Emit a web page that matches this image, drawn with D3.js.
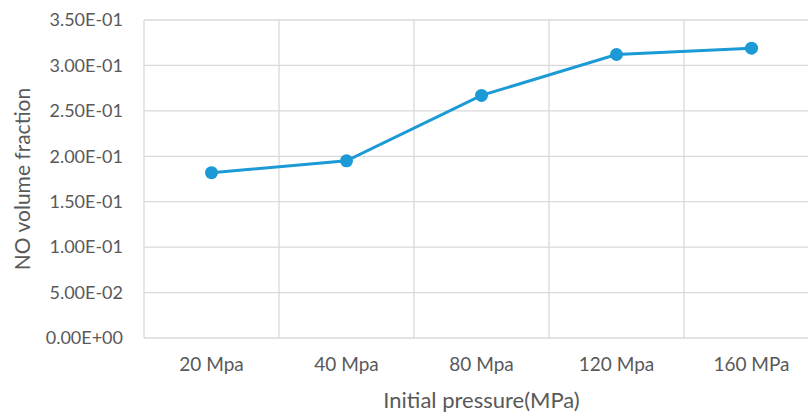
<!DOCTYPE html>
<html>
<head>
<meta charset="utf-8">
<script src="https://cdn.jsdelivr.net/npm/d3@7"></script>
<style>
  body { margin: 0; background: #fff; overflow: hidden; }
  text { font-family: Lato, "Open Sans", sans-serif; fill: #595959; }
</style>
</head>
<body>
<div id="chart"></div>
<script>
const categories = ['20 Mpa', '40 Mpa', '80 Mpa', '120 Mpa', '160 MPa'];
const values = [0.182, 0.195, 0.267, 0.312, 0.319];
const yTicks = [0, 0.05, 0.10, 0.15, 0.20, 0.25, 0.30, 0.35];

const width = 808;
const height = 414;
const margin = { left: 144, right: -11, top: 20, bottom: 76 };

const svg = d3.select('#chart')
  .append('svg')
  .attr('width', width)
  .attr('height', height);

// Scales
const x = d3.scaleBand()
  .domain(categories)
  .range([margin.left, width - margin.right]);

const y = d3.scaleLinear()
  .domain([0, 0.35])
  .range([height - margin.bottom, margin.top]);

// Horizontal grid
svg.append('g')
  .selectAll('line')
  .data(yTicks)
  .enter()
  .append('line')
  .attr('x1', x.range()[0])
  .attr('x2', x.range()[1])
  .attr('y1', d => y(d))
  .attr('y2', d => y(d))
  .attr('stroke', '#d9d9d9')
  .attr('stroke-width', 1.3);

// Vertical grid at category boundaries
svg.append('g')
  .selectAll('line')
  .data(categories.map(c => x(c)).concat([x.range()[1]]))
  .enter()
  .append('line')
  .attr('x1', d => d)
  .attr('x2', d => d)
  .attr('y1', y(0.35))
  .attr('y2', y(0))
  .attr('stroke', '#d9d9d9')
  .attr('stroke-width', 1.3);

// Y axis labels
const axisY = d3.axisLeft(y)
  .tickValues(yTicks)
  .tickSize(0)
  .tickPadding(21)
  .tickFormat(d => d.toExponential(2).replace(/e([+-])(\d)$/, 'E$10$2').toUpperCase());

svg.append('g')
  .attr('transform', 'translate(' + margin.left + ',0)')
  .call(axisY)
  .call(g => g.select('.domain').remove())
  .selectAll('text')
  .attr('font-size', '18px')
  .attr('fill', '#595959');

// X axis labels
const axisX = d3.axisBottom(x)
  .tickSize(0)
  .tickPadding(20);

svg.append('g')
  .attr('transform', 'translate(0,' + y(0) + ')')
  .call(axisX)
  .call(g => g.select('.domain').remove())
  .selectAll('text')
  .attr('font-size', '19px')
  .attr('fill', '#595959');

// Axis titles
svg.append('text')
  .attr('x', (x.range()[0] + x.range()[1]) / 2)
  .attr('y', 408)
  .attr('text-anchor', 'middle')
  .attr('font-size', '22px')
  .text('Initial pressure(MPa)');

svg.append('text')
  .attr('transform', 'translate(30,' + (y(0.35) + y(0)) / 2 + ') rotate(-90)')
  .attr('text-anchor', 'middle')
  .attr('font-size', '21px')
  .text('NO volume fraction');

// Line and markers
const line = d3.line()
  .x((d, i) => x(categories[i]) + x.bandwidth() / 2)
  .y(d => y(d));

svg.append('path')
  .datum(values)
  .attr('d', line)
  .attr('fill', 'none')
  .attr('stroke', '#1b9ad6')
  .attr('stroke-width', 3);

svg.append('g')
  .selectAll('circle')
  .data(values)
  .enter()
  .append('circle')
  .attr('cx', (d, i) => x(categories[i]) + x.bandwidth() / 2)
  .attr('cy', d => y(d))
  .attr('r', 6.5)
  .attr('fill', '#1b9ad6');
</script>
</body>
</html>
